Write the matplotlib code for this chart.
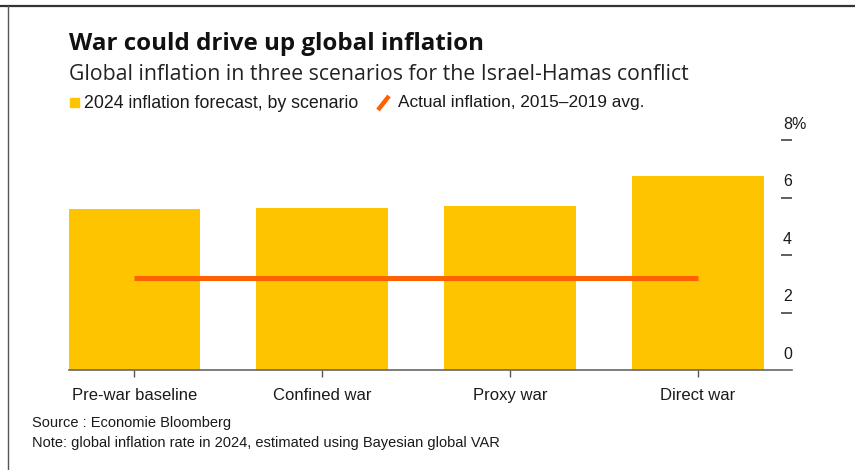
import matplotlib
matplotlib.use("Agg")
import matplotlib.pyplot as plt
from matplotlib.patches import Rectangle
from matplotlib.lines import Line2D

# ---- data ----
categories = ["Pre-war baseline", "Confined war", "Proxy war", "Direct war"]
forecast_2024 = [5.6, 5.65, 5.7, 6.75]
actual_avg_2015_2019 = 3.2
y_ticks = [0, 2, 4, 6, 8]
y_tick_labels = ["0", "2", "4", "6", "8%"]

title = "War could drive up global inflation"
subtitle = "Global inflation in three scenarios for the Israel-Hamas conflict"
legend_bar = "2024 inflation forecast, by scenario"
legend_line = "Actual inflation, 2015\u20132019 avg."
source = "Source : Economie Bloomberg"
note = "Note: global inflation rate in 2024, estimated using Bayesian global VAR"

BAR = "#FFC400"
LINE = "#FF6000"
TXT = "#1a1a1a"

W, H = 855, 470
fig = plt.figure(figsize=(W / 100, H / 100), dpi=100)

def fx(px):
    return px / W

def fy(py):
    return 1 - py / H

# frame lines (top and left)
fig.add_artist(Line2D([0, 1], [fy(6), fy(6)], color="#333333", lw=1.6, transform=fig.transFigure))
fig.add_artist(Line2D([fx(8), fx(8)], [fy(6), 0], color="#555555", lw=1.0, transform=fig.transFigure))

# axes
ax_left, ax_right, ax_bottom, ax_top = 68.5, 792, 370, 140
ax = fig.add_axes([fx(ax_left), fy(ax_bottom), fx(ax_right - ax_left), (ax_bottom - ax_top) / H])
x = list(range(len(categories)))
ax.bar(x, forecast_2024, width=0.7, color=BAR, zorder=2)
ax.plot([x[0], x[-1]], [actual_avg_2015_2019] * 2, color=LINE, lw=3.6, solid_capstyle="butt", zorder=3)
ax.set_xlim(-0.35, 3.5)
ax.set_ylim(0, 8)

for s in ["top", "left", "right"]:
    ax.spines[s].set_visible(False)
ax.spines["bottom"].set_color("#666666")
ax.spines["bottom"].set_linewidth(1.2)

ax.set_xticks(x)
ax.set_xticklabels(categories, fontsize=12, color=TXT, family=["Liberation Sans", "DejaVu Sans"])
ax.tick_params(axis="x", length=5, width=1, color="#555555", pad=8)

ax.yaxis.tick_right()
ax.set_yticks([t for t in y_ticks if t > 0])
ax.set_yticklabels([])
ax.tick_params(axis="y", direction="in", length=8, width=1.2, color="#444444", right=True, left=False)
ytrans = ax.get_yaxis_transform()
lab_x = (783 - ax_left) / (ax_right - ax_left)
for t, lab in zip(y_ticks, y_tick_labels):
    ax.text(lab_x, t + 0.28, lab, transform=ytrans, ha="left", va="bottom", fontsize=11.5,
            color=TXT, family=["Liberation Sans", "DejaVu Sans"], clip_on=False)

# titles
fig.text(fx(69), fy(44), title, fontsize=17.4, fontweight="bold", color="#111111",
         family=["Open Sans", "DejaVu Sans"], va="center", ha="left")
fig.text(fx(69), fy(75), subtitle, fontsize=15.3, color="#222222",
         family=["Open Sans", "DejaVu Sans"], va="center", ha="left")

# legend
fig.add_artist(Rectangle((fx(70), fy(107)), fx(9), 9 / H, color=BAR, transform=fig.transFigure))
fig.text(fx(84), fy(103), legend_bar, fontsize=12.8, color=TXT,
         family=["Liberation Sans", "DejaVu Sans"], va="center", ha="left")
fig.add_artist(Line2D([fx(378), fx(389)], [fy(110), fy(96)], color=LINE, lw=3.2,
                      solid_capstyle="butt", transform=fig.transFigure))
fig.text(fx(398), fy(103), legend_line, fontsize=12.4, color=TXT,
         family=["Liberation Sans", "DejaVu Sans"], va="center", ha="left")

# source / note
fig.text(fx(32), fy(423), source, fontsize=10.5, color=TXT,
         family=["Liberation Sans", "DejaVu Sans"], va="center", ha="left")
fig.text(fx(32), fy(443), note, fontsize=10.5, color=TXT,
         family=["Liberation Sans", "DejaVu Sans"], va="center", ha="left")

fig.savefig("out.png", dpi=100)
